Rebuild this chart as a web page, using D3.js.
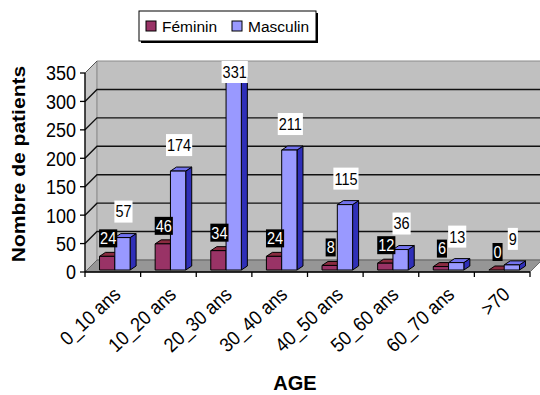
<!DOCTYPE html>
<html>
<head>
<meta charset="utf-8">
<script src="https://cdn.jsdelivr.net/npm/d3@7"></script>
<style>
  body { margin: 0; background: #fff; }
  svg { display: block; font-family: Arial, "Liberation Sans", sans-serif; }
</style>
</head>
<body>
<svg id="chart" width="540" height="395"></svg>
<script>
// Patients by age group and sex
const categories = ["0_10 ans", "10_20 ans", "20_30 ans", "30_40 ans", "40_50 ans", "50_60 ans", "60_70 ans", ">70"];
const seriesNames = ["Féminin", "Masculin"];
const feminin = [24, 46, 34, 24, 8, 12, 6, 0];
const masculin = [57, 174, 331, 211, 115, 36, 13, 9];
const yTicks = [0, 50, 100, 150, 200, 250, 300, 350];

const svg = d3.select("#chart");

// Front plane of the 3D plot and its depth offset
const plotLeft = 85, plotRight = 530, plotBottom = 272, plotTop = 73;
const depth = { dx: 12, dy: -12 };
const barShift = { dx: 2, dy: -2 };   // bars sit slightly behind the front plane
const barDepth = { dx: 6, dy: -4 };

const x = d3.scaleBand().domain(categories).range([plotLeft, plotRight]);
const inner = d3.scaleBand().domain(seriesNames).range([0, x.bandwidth()])
  .paddingInner(0).paddingOuter(0.82);
const y = d3.scaleLinear().domain([0, 350]).range([plotBottom, plotTop]);

const colors = {
  "Féminin":  { front: "#993366", top: "#8a2b40", side: "#5e1f3c" },
  "Masculin": { front: "#9999ff", top: "#7272ee", side: "#2f2fb8" }
};

const poly = pts => pts.map(p => p.join(",")).join(" ");
const wallRight = plotRight + depth.dx + 20;

// Side wall (left)
svg.append("polygon")
  .attr("points", poly([[plotLeft, y(350)], [plotLeft + depth.dx, y(350) + depth.dy],
                        [plotLeft + depth.dx, plotBottom + depth.dy], [plotLeft, plotBottom]]))
  .attr("fill", "#c6c6c6").attr("stroke", "#9a9a9a").attr("stroke-width", 0.8);

// Back wall
svg.append("polygon")
  .attr("points", poly([[plotLeft + depth.dx, y(350) + depth.dy], [wallRight, y(350) + depth.dy],
                        [wallRight, plotBottom + depth.dy], [plotLeft + depth.dx, plotBottom + depth.dy]]))
  .attr("fill", "#c0c0c0").attr("stroke", "#8a8a8a").attr("stroke-width", 1);

// Gridlines on the back and side walls
const grid = svg.append("g").attr("stroke", "#111").attr("stroke-width", 1.4).attr("fill", "none");
yTicks.filter(t => t > 0 && t < 350).forEach(t => {
  grid.append("polyline")
    .attr("points", poly([[plotLeft, y(t)], [plotLeft + depth.dx, y(t) + depth.dy], [wallRight, y(t) + depth.dy]]));
});
svg.append("line")
  .attr("x1", plotLeft).attr("y1", y(350)).attr("x2", plotLeft + depth.dx).attr("y2", y(350) + depth.dy)
  .attr("stroke", "#555").attr("stroke-width", 1);

// Floor
svg.append("polygon")
  .attr("points", poly([[plotLeft, plotBottom], [plotRight, plotBottom],
                        [plotRight + depth.dx, plotBottom + depth.dy], [plotLeft + depth.dx, plotBottom + depth.dy]]))
  .attr("fill", "#969696").attr("stroke", "#555").attr("stroke-width", 0.8);

// Bars
const rows = categories.map((c, i) => ({ cat: c, values: [feminin[i], masculin[i]] }));
const bars = svg.append("g").attr("stroke", "#000").attr("stroke-width", 1).attr("stroke-linejoin", "round");
rows.forEach(r => {
  seriesNames.forEach((s, j) => {
    const v = r.values[j];
    const x0 = x(r.cat) + inner(s) + barShift.dx;
    const x1 = x0 + inner.bandwidth();
    const yb = y(0) + barShift.dy;
    const yt = y(v) + barShift.dy;
    const g = bars.append("g");
    g.append("polygon").attr("fill", colors[s].side)
      .attr("points", poly([[x1, yt], [x1 + barDepth.dx, yt + barDepth.dy], [x1 + barDepth.dx, yb + barDepth.dy], [x1, yb]]));
    g.append("polygon").attr("fill", colors[s].top)
      .attr("points", poly([[x0, yt], [x0 + barDepth.dx, yt + barDepth.dy], [x1 + barDepth.dx, yt + barDepth.dy], [x1, yt]]));
    g.append("rect").attr("fill", colors[s].front)
      .attr("x", x0).attr("y", yt).attr("width", x1 - x0).attr("height", yb - yt);
  });
});

// Axes
const axes = svg.append("g").attr("stroke", "#000").attr("stroke-width", 1.3);
axes.append("line").attr("x1", plotLeft).attr("x2", plotLeft).attr("y1", y(350)).attr("y2", plotBottom);
axes.append("line").attr("x1", plotLeft).attr("x2", plotRight).attr("y1", plotBottom).attr("y2", plotBottom);
yTicks.forEach(t => axes.append("line").attr("x1", plotLeft - 5).attr("x2", plotLeft).attr("y1", y(t)).attr("y2", y(t)));
categories.forEach(c => axes.append("line").attr("x1", x(c)).attr("x2", x(c)).attr("y1", plotBottom).attr("y2", plotBottom + 5));
axes.append("line").attr("x1", plotRight).attr("x2", plotRight).attr("y1", plotBottom).attr("y2", plotBottom + 5);

// Y tick labels
svg.append("g").selectAll("text").data(yTicks).join("text")
  .attr("transform", d => `translate(76,${y(d)}) scale(1,1.15)`)
  .attr("text-anchor", "end").attr("dy", "0.36em")
  .attr("font-size", 18).attr("fill", "#000")
  .text(d => d);

// X tick labels
svg.append("g").selectAll("text").data(categories).join("text")
  .attr("transform", d => `translate(${x(d) + x.bandwidth() / 2 + 9},296) rotate(-43) scale(1.0,1.1)`)
  .attr("text-anchor", "end")
  .attr("font-size", 18).attr("fill", "#000")
  .text(d => d);

// Value labels
const labels = svg.append("g");
rows.forEach(r => {
  seriesNames.forEach((s, j) => {
    const v = r.values[j];
    const cx = x(r.cat) + inner(s) + barShift.dx + inner.bandwidth() / 2 + 1;
    const isF = j === 0;
    const boxH = isF ? 18 : 22;
    let cy = y(v) + barShift.dy - (isF ? 18 : 26);
    cy = Math.max(cy, y(350) + depth.dy + boxH / 2);
    const g = labels.append("g");
    const rect = g.append("rect").attr("fill", isF ? "#000" : "#fff");
    const t = g.append("text")
      .attr("transform", `translate(${cx},${cy}) scale(1,1.13)`)
      .attr("text-anchor", "middle").attr("dy", "0.36em")
      .attr("font-size", 14.5).attr("fill", isF ? "#fff" : "#000")
      .text(v);
    const w = t.node().getComputedTextLength() + 2;
    rect.attr("x", cx - w / 2).attr("y", cy - boxH / 2).attr("width", w).attr("height", boxH);
  });
});

// Axis titles
svg.append("text")
  .attr("transform", "translate(25,164) scale(1,1.17) rotate(-90)")
  .attr("text-anchor", "middle").attr("font-size", 18).attr("font-weight", "bold")
  .text("Nombre de patients");
svg.append("text")
  .attr("transform", "translate(295,390) scale(1,1.05)")
  .attr("text-anchor", "middle").attr("font-size", 20).attr("font-weight", "bold")
  .text("AGE");

// Legend
const lg = svg.append("g");
lg.append("rect").attr("x", 141).attr("y", 13).attr("width", 177).attr("height", 30).attr("fill", "#000");
lg.append("rect").attr("x", 139).attr("y", 11).attr("width", 177).attr("height", 30)
  .attr("fill", "#fff").attr("stroke", "#000").attr("stroke-width", 1);
const legendX = [146, 232];
seriesNames.forEach((s, i) => {
  lg.append("rect").attr("x", legendX[i]).attr("y", 21).attr("width", 10).attr("height", 10)
    .attr("fill", colors[s].front).attr("stroke", "#000").attr("stroke-width", 1);
  lg.append("text").attr("x", legendX[i] + 16).attr("y", 32)
    .attr("font-size", 15.5).attr("fill", "#000").text(s);
});
</script>
</body>
</html>
